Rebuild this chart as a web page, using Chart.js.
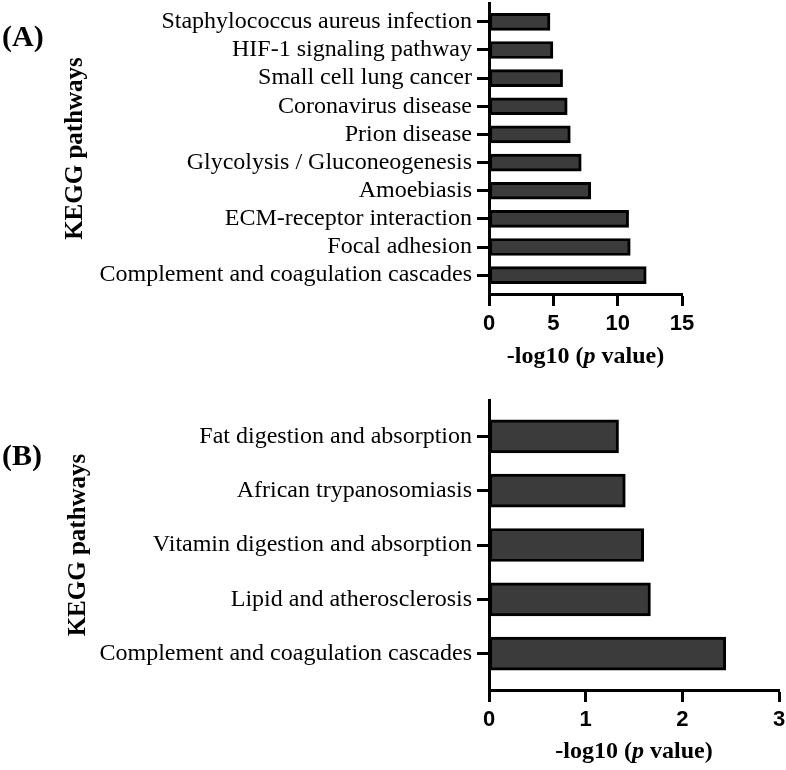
<!DOCTYPE html>
<html>
<head>
<meta charset="utf-8">
<script src="https://cdn.jsdelivr.net/npm/chart.js@4.4.1/dist/chart.umd.min.js"></script>
<style>
  body { margin: 0; background: #fff; }
  #wrap { position: relative; width: 786px; height: 770px; }
  canvas { position: absolute; left: 0; }
  .panel { position: absolute; left: 2px; font: bold 30px "Liberation Serif", serif; color: #000; line-height: 30px; }
</style>
</head>
<body>
<div id="wrap">
  <canvas id="chartA" width="786" height="385" style="top:0"></canvas>
  <canvas id="chartB" width="786" height="385" style="top:385px"></canvas>
  <div class="panel" style="top:21px">(A)</div>
  <div class="panel" style="top:440px">(B)</div>
</div>
<script>
// panel A
const pathwaysA = [
  'Staphylococcus aureus infection',
  'HIF-1 signaling pathway',
  'Small cell lung cancer',
  'Coronavirus disease',
  'Prion disease',
  'Glycolysis / Gluconeogenesis',
  'Amoebiasis',
  'ECM-receptor interaction',
  'Focal adhesion',
  'Complement and coagulation cascades'
];
const logPA = [4.74, 4.97, 5.72, 6.08, 6.32, 7.17, 7.91, 10.85, 10.98, 12.22];
const axisMaxA = 15;
const stepA = 5;

// panel B
const pathwaysB = [
  'Fat digestion and absorption',
  'African trypanosomiasis',
  'Vitamin digestion and absorption',
  'Lipid and atherosclerosis',
  'Complement and coagulation cascades'
];
const logPB = [1.34, 1.41, 1.60, 1.67, 2.45];
const axisMaxB = 3;
const stepB = 1;

const yTitle = 'KEGG pathways';

// x title with italic p, drawn under the axis
const xTitlePlugin = {
  id: 'xTitle',
  afterDraw(chart, args, opts) {
    const { ctx, chartArea } = chart;
    const parts = [
      ['-log10 (', 'bold 24px "Liberation Serif"'],
      ['p', 'italic bold 24px "Liberation Serif"'],
      [' value)', 'bold 24px "Liberation Serif"']
    ];
    ctx.save();
    ctx.fillStyle = '#000';
    ctx.textBaseline = 'middle';
    ctx.textAlign = 'left';
    let total = 0;
    parts.forEach(([t, f]) => { ctx.font = f; total += ctx.measureText(t).width; });
    let x = (chartArea.left + chartArea.right) / 2 - total / 2;
    const y = chartArea.bottom + opts.offset;
    parts.forEach(([t, f]) => {
      ctx.font = f;
      ctx.fillText(t, x, y);
      x += ctx.measureText(t).width;
    });
    ctx.restore();
  }
};

function makeChart(id, labels, values, axisMax, step, o) {
  const ctx = document.getElementById(id).getContext('2d');
  return new Chart(ctx, {
    type: 'bar',
    data: {
      labels: labels,
      datasets: [{
        data: values,
        backgroundColor: '#3b3b3b',
        borderColor: '#000',
        borderWidth: 3,
        borderSkipped: false,
        barThickness: o.bar
      }]
    },
    options: {
      indexAxis: 'y',
      responsive: false,
      animation: false,
      layout: { padding: { left: 0, top: o.top, right: o.right, bottom: 0 } },
      plugins: {
        legend: { display: false },
        tooltip: { enabled: false },
        xTitle: { offset: o.titleOffset }
      },
      scales: {
        y: {
          grid: { display: true, drawOnChartArea: false, offset: false, tickLength: 12, tickWidth: 3, tickColor: '#000' },
          border: { display: true, color: '#000', width: 3 },
          ticks: { autoSkip: false, color: '#000', padding: 5, font: { family: '"Liberation Serif"', size: 24 } },
          title: {
            display: true,
            text: yTitle,
            color: '#000',
            font: { family: '"Liberation Serif"', size: 25, weight: 'bold' },
            padding: { top: o.yTitlePad, bottom: 0 }
          },
          afterBuildTicks: (s) => { s._startValue -= 0.17; s._valueRange += 0.34; },
          afterFit: (s) => { s.width = 489; s.paddingTop = 0; s.paddingBottom = 0; }
        },
        x: {
          min: 0,
          max: axisMax,
          grid: { display: true, drawOnChartArea: false, tickLength: 12, tickWidth: 3, tickColor: '#000' },
          border: { display: true, color: '#000', width: 3 },
          ticks: { stepSize: step, color: '#000', padding: 5, font: { family: '"Liberation Sans"', size: 22, weight: 'bold' } },
          afterFit: (s) => { s.height = o.xHeight; s.paddingLeft = 0; s.paddingRight = 0; }
        }
      }
    },
    plugins: [xTitlePlugin]
  });
}

makeChart('chartA', pathwaysA, logPA, axisMaxA, stepA,
  { bar: 17, top: 3, right: 104, xHeight: 91, titleOffset: 63, yTitlePad: 61 });
makeChart('chartB', pathwaysB, logPB, axisMaxB, stepB,
  { bar: 33, top: 15, right: 7, xHeight: 80, titleOffset: 62, yTitlePad: 64 });
</script>
</body>
</html>
